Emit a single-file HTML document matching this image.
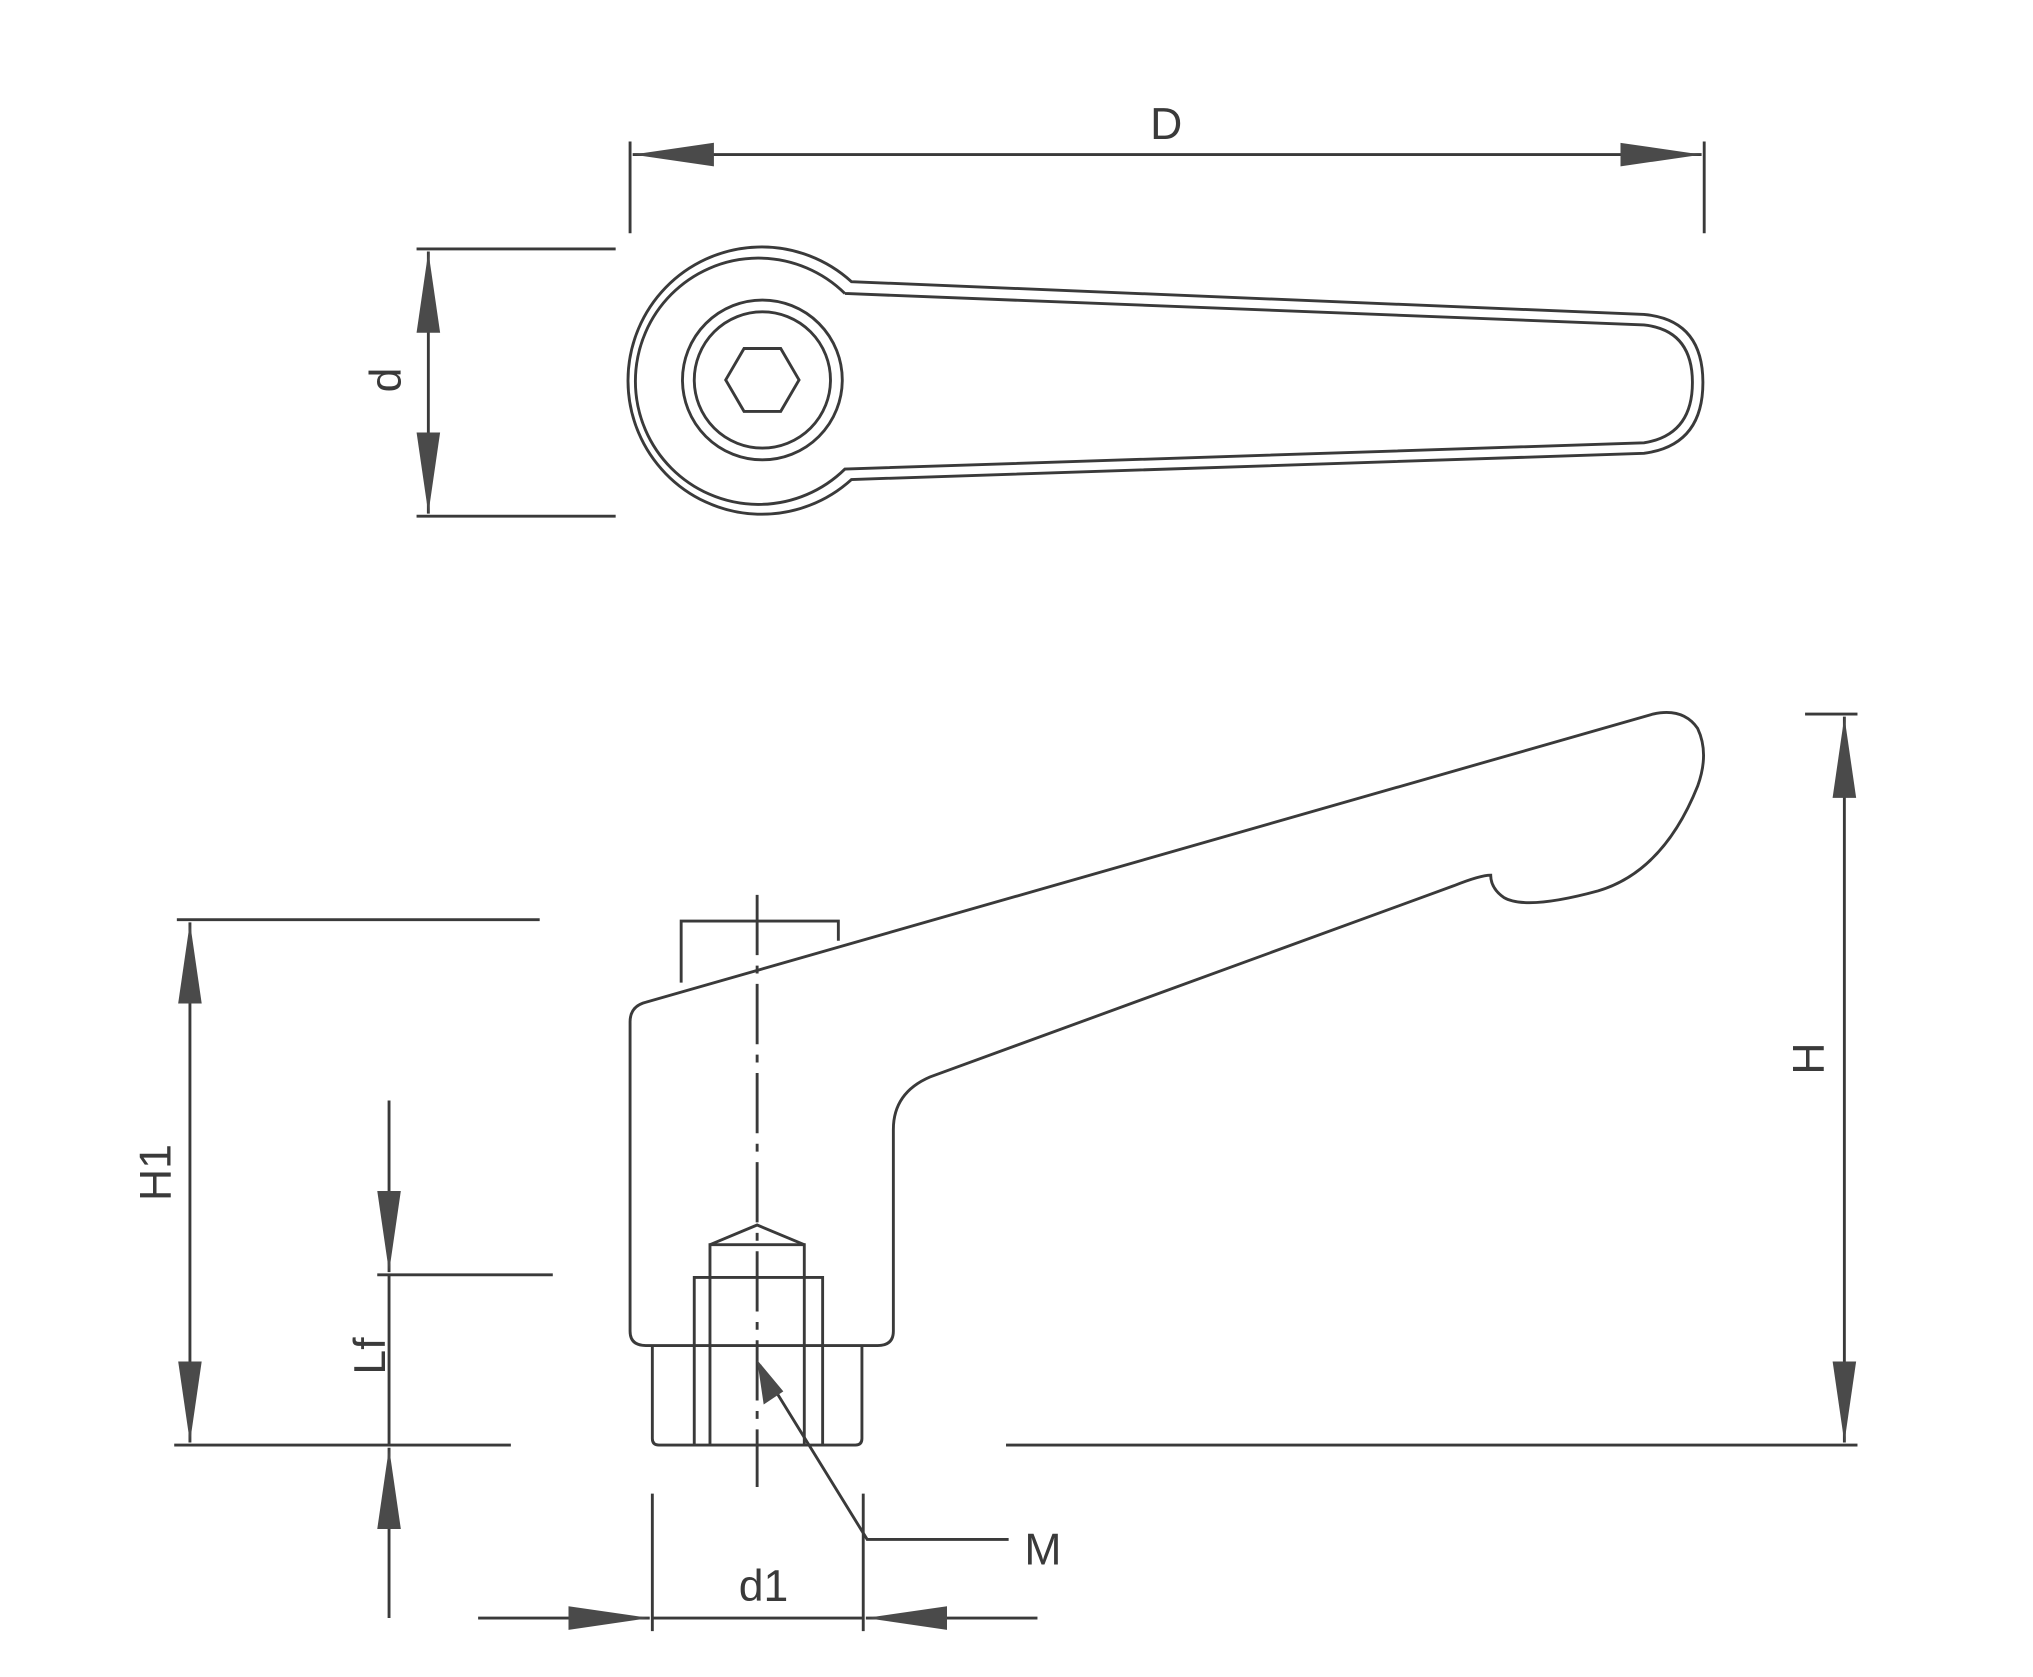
<!DOCTYPE html>
<html><head><meta charset="utf-8"><style>
html,body{margin:0;padding:0;background:#fff;}
svg{display:block;}
text{font-family:"Liberation Sans",sans-serif;fill:#3a3a3a;}
</style></head><body>
<svg width="2033" height="1677" viewBox="0 0 1552 1280" preserveAspectRatio="none" xmlns="http://www.w3.org/2000/svg">
<defs>
<marker id="a" markerWidth="64" markerHeight="22" refX="62" refY="11" orient="auto-start-reverse" markerUnits="userSpaceOnUse">
<path d="M0,2 L62,11 L0,20 Z" fill="#4a4a4a"/></marker>
</defs>
<g fill="none" stroke="#3a3a3a" stroke-width="2.2">
<line x1="481" y1="108" x2="481" y2="178"/>
<line x1="1301" y1="108" x2="1301" y2="178"/>
<line x1="483" y1="118" x2="1299" y2="118" marker-start="url(#a)" marker-end="url(#a)"/>
<line x1="318" y1="190" x2="470" y2="190"/>
<line x1="318" y1="394" x2="470" y2="394"/>
<line x1="327" y1="192" x2="327" y2="392" marker-start="url(#a)" marker-end="url(#a)"/>
<path d="M650,215 A102,102 0 1 0 650,366 L1255,346 Q1300,340 1300,292 Q1300,244 1255,240 Z"/>
<path d="M645,224 A94,94 0 1 0 645,358 L1255,338 Q1292,332 1292,292 Q1292,252 1255,248 L645,224"/>
<circle cx="582" cy="290" r="61"/>
<circle cx="582" cy="290" r="52"/>
<path d="M554,290 L568,266 L596,266 L610,290 L596,314 L568,314 Z"/>
<path d="M520,750 L520,703 L640,703 L640,718"/>
<path d="M481,780 Q481,768 493,765 L1262,545 Q1285,540 1296,556 Q1305,575 1296,600 Q1270,665 1220,680 Q1165,695 1148,685 Q1138,678 1138,668 Q1130,668 1110,676 L710,822 Q682,834 682,862 L682,1016 Q682,1027 670,1027 L493,1027 Q481,1027 481,1016 Z"/>
<path d="M498,1027 L498,1098 Q498,1103 503,1103 L653,1103 Q658,1103 658,1098 L658,1027"/>
<path d="M530,1103 L530,975 L628,975 L628,1103"/>
<path d="M542,1103 L542,950 L614,950 L614,1103"/>
<path d="M542,950 L578,935 L614,950"/>
<line x1="578" y1="683" x2="578" y2="1135" stroke-dasharray="46,8,6,8"/>
<line x1="135" y1="702" x2="412" y2="702"/>
<line x1="133" y1="1103" x2="390" y2="1103"/>
<line x1="145" y1="704" x2="145" y2="1101" marker-start="url(#a)" marker-end="url(#a)"/>
<line x1="288" y1="973" x2="422" y2="973"/>
<line x1="297" y1="840" x2="297" y2="971" marker-end="url(#a)"/>
<line x1="297" y1="1235" x2="297" y2="1105" marker-end="url(#a)"/>
<line x1="297" y1="973" x2="297" y2="1103"/>
<line x1="1378" y1="545" x2="1418" y2="545"/>
<line x1="768" y1="1103" x2="1418" y2="1103"/>
<line x1="1408" y1="547" x2="1408" y2="1101" marker-start="url(#a)" marker-end="url(#a)"/>
<line x1="498" y1="1140" x2="498" y2="1245"/>
<line x1="659" y1="1140" x2="659" y2="1245"/>
<line x1="365" y1="1235" x2="496" y2="1235" marker-end="url(#a)"/>
<line x1="792" y1="1235" x2="661" y2="1235" marker-end="url(#a)"/>
<line x1="498" y1="1235" x2="659" y2="1235"/>
<path d="M770,1175 L662,1175 L580,1042"/>
<path d="M578,1038 L583,1072 L598,1062 Z" fill="#4a4a4a" stroke="none"/>
</g>
<g font-size="34">
<text x="878" y="106">D</text>
<text x="564" y="1222">d1</text>
<text x="782" y="1194">M</text>
<text transform="translate(306,290) rotate(-90)" text-anchor="middle">d</text>
<text transform="translate(130,895) rotate(-90)" text-anchor="middle">H1</text>
<text transform="translate(294,1035) rotate(-90)" text-anchor="middle">Lf</text>
<text transform="translate(1392,808) rotate(-90)" text-anchor="middle">H</text>
</g>
</svg>
</body></html>
